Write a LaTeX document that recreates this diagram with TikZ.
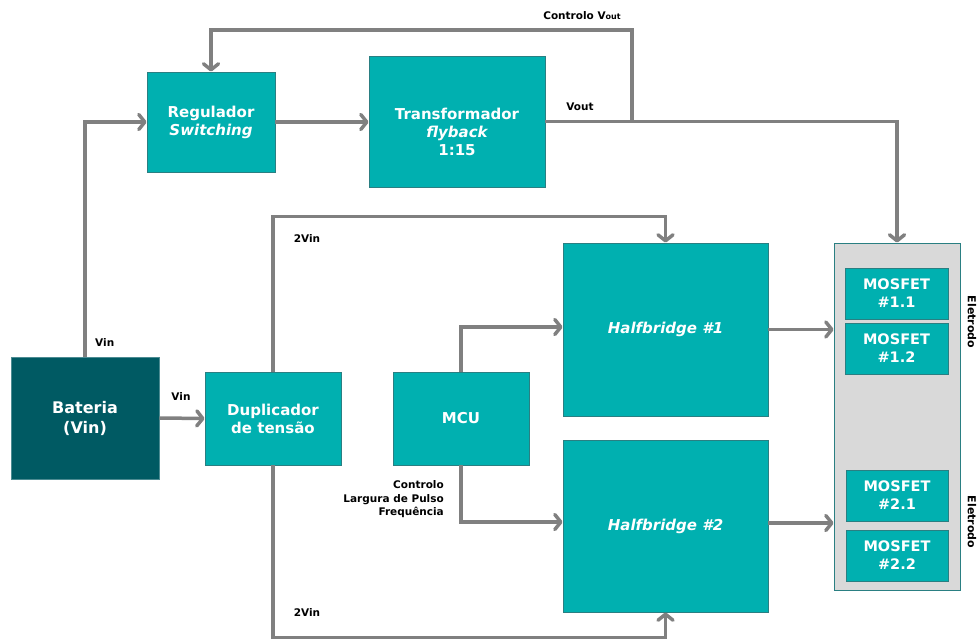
\documentclass[tikz,border=0pt]{standalone}
\usepackage{fontspec}
\setmainfont{DejaVu Sans}
\usetikzlibrary{arrows.meta,calc}
\definecolor{tealc}{HTML}{00B0B0}
\definecolor{tealdark}{HTML}{005A63}
\definecolor{tealline}{HTML}{2A7F82}
\definecolor{panelgray}{HTML}{D9D9D9}
\definecolor{conngray}{HTML}{808080}
\tikzset{
  box/.style={draw=tealline, line width=0.9pt, fill=tealc, text=white, align=center,
    inner sep=0pt, font=\bfseries\fontsize{15}{18}\selectfont},
  boxtext/.style={text=white, align=center, inner sep=0pt, font=\bfseries\fontsize{15}{18}\selectfont},
  mos/.style={box, minimum width=103pt, minimum height=51pt, font=\bfseries\fontsize{14.5}{18}\selectfont},
  conn/.style={draw=conngray, line width=3.5pt},
  arr/.style={conn, -{Straight Barb[length=6pt,width=15pt,line cap=round,line join=round]}},
  lbl/.style={font=\bfseries\fontsize{10.5}{13.5}\selectfont, text=black, inner sep=0pt},
}
\begin{document}
\begin{tikzpicture}[x=1pt,y=-1pt]
\useasboundingbox (0,0) rectangle (979,639);
% panel
\node[draw=tealline, line width=0.9pt, fill=panelgray, minimum width=126pt, minimum height=347pt, inner sep=0pt] (panel) at (897,416.5) {};
% boxes
\node[box, minimum width=128pt, minimum height=100pt] (reg) at (211,122) {Regulador\\\itshape Switching};
\node[box, minimum width=176pt, minimum height=131pt] (tra) at (457,121.5) {};
\node[boxtext] (tratext) at ($(tra.center)+(0,10)$) {Transformador\\\itshape flyback\\1:15};
\node[box, fill=tealdark, draw=tealdark!70!white, minimum width=148pt, minimum height=122pt, font=\bfseries\fontsize{16}{20}\selectfont] (bat) at (85,418) {Bateria\\(Vin)};
\node[box, minimum width=136pt, minimum height=93pt] (dup) at (273,418.5) {Duplicador\\de tensão};
\node[box, minimum width=136pt, minimum height=93pt] (mcu) at (461,418.5) {MCU};
\node[box, minimum width=205pt, minimum height=173pt, font=\bfseries\itshape\fontsize{15}{18}\selectfont] (hb1) at (665.5,329.5) {Halfbridge \#1};
\node[box, minimum width=205pt, minimum height=172pt, font=\bfseries\itshape\fontsize{15}{18}\selectfont] (hb2) at (665.5,526) {Halfbridge \#2};
\node[mos] (m11) at (896.5,293.5) {MOSFET\\\#1.1};
\node[mos] (m12) at (896.5,348.5) {MOSFET\\\#1.2};
\node[mos, minimum width=102pt] (m21) at (897,495.5) {MOSFET\\\#2.1};
\node[mos, minimum width=102pt] (m22) at (897,555.5) {MOSFET\\\#2.2};
% connectors
\draw[arr] (bat.north) |- (reg.west);
\draw[arr] (bat.east) -- (dup.west);
\draw[arr] (reg.east) -- (reg.east -| tra.west);
\draw[arr] (tra.east) -| (panel.north);
\coordinate (fb) at (632,121.5);
\coordinate (fbtop) at (632,30);
\draw[arr] (fb) -- (fbtop) -| (reg.north);
\draw[arr] (dup.north) -- ++(0,-155) -| (hb1.north);
\draw[arr] (dup.south) -- ++(0,172) -| (hb2.south);
\draw[arr] (mcu.north) |- ([yshift=2.5pt]hb1.west);
\draw[arr] (mcu.south) |- ([yshift=4pt]hb2.west);
\draw[arr] (hb1.east) -- (hb1.east -| panel.west);
\draw[arr] ([yshift=3pt]hb2.east) -- ([yshift=3pt]hb2.east -| panel.west);
% labels
\node[lbl, anchor=west] (l1) at (95,343) {Vin};
\node[lbl] (l2) at (181,397) {Vin};
\node[lbl] (l3) at (580,107) {Vout};
\node[lbl] (l4) at (582,16) {Controlo V{\fontsize{8}{9}\selectfont out}};
\node[lbl] (l5) at (307,239) {2Vin};
\node[lbl] (l6) at (307,613) {2Vin};
\node[lbl, anchor=east, align=right] (l7) at (444,499.5) {Controlo\\Largura de Pulso\\Frequência};
\node[lbl, rotate=-90, font=\bfseries\fontsize{11}{13}\selectfont] (e1) at (972,322) {Eletrodo};
\node[lbl, rotate=-90, font=\bfseries\fontsize{11}{13}\selectfont] (e2) at (972,522) {Eletrodo};
\end{tikzpicture}
\end{document}
